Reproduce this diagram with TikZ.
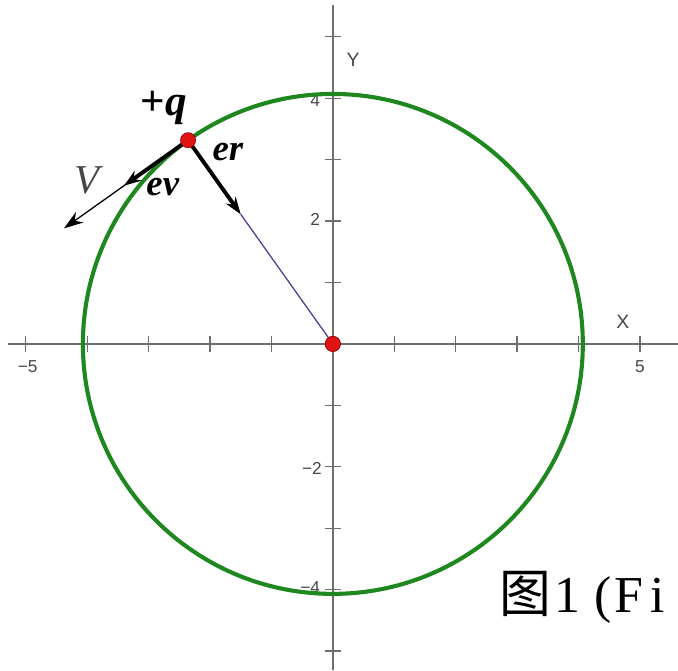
\documentclass[tikz,border=0pt]{standalone}
\usepackage{fontspec}
\setmainfont{Liberation Serif}
\newfontfamily\axfont{Liberation Sans}
\newfontfamily\cjkfont{Noto Sans CJK SC}
\usetikzlibrary{arrows.meta,calc}
\definecolor{axisgray}{RGB}{110,110,110}
\definecolor{labgray}{RGB}{70,70,70}
\definecolor{orbitgreen}{RGB}{30,135,30}
\definecolor{dotred}{RGB}{225,20,20}
\definecolor{dotedge}{RGB}{150,0,0}
\definecolor{radblue}{RGB}{70,70,150}
\begin{document}
\begin{tikzpicture}[x=1cm,y=1cm,
  axis/.style={draw=axisgray, line width=0.7pt},
  tickmark/.style={draw=axisgray, line width=0.6pt},
  ticklab/.style={font=\axfont\fontsize{8}{8}\selectfont, text=labgray, inner sep=0pt},
  axlab/.style={font=\axfont\fontsize{9}{9}\selectfont, text=labgray, inner sep=0pt},
  orbit/.style={draw=orbitgreen, line width=1.9pt},
  dot/.style={circle, fill=dotred, draw=dotedge, line width=0.3pt, inner sep=0pt, minimum size=7pt},
  thickvec/.style={line width=1.8pt, -{Stealth[length=8pt,width=5.5pt]}},
  thinvec/.style={line width=0.6pt, -{Stealth[length=9pt,width=6pt]}},
  veclab/.style={font=\fontsize{17}{17}\selectfont\bfseries\itshape, inner sep=0pt},
]
\useasboundingbox (-5.42,-5.31) rectangle (5.62,5.60);
% axes
\coordinate (xl) at (-5.29,0);
\coordinate (xr) at (5.62,0);
\coordinate (yb) at (0,-5.31);
\coordinate (yt) at (0,5.52);
\draw[axis] (xl) -- (xr);
\draw[axis] (yb) -- (yt);
\foreach \k in {-5,-4,-3,-2,-1,1,2,3,4,5} {
  \draw[tickmark] (\k,-0.13) -- (\k,0.13);
  \draw[tickmark] (-0.13,\k) -- (0.13,\k);
}
\node[ticklab] (tm5) at (-4.97,-0.37) {−5};
\node[ticklab] (tp5) at (5.0,-0.37) {5};
\node[ticklab] (t4) at (-0.29,3.97) {4};
\node[ticklab] (t2) at (-0.29,2.02) {2};
\node[ticklab] (tm2) at (-0.34,-2.02) {−2};
\node[ticklab] (tm4) at (-0.37,-3.97) {−4};
\node[axlab] (Xlab) at (4.72,0.36) {X};
\node[axlab] (Ylab) at (0.33,4.63) {Y};
% orbit
\draw[orbit] (0,0) circle (4.07);
% points and vectors
\node[dot] (O) at (0,0) {};
\coordinate (Qc) at (125.4:4.07);
\coordinate (ertip) at ($(Qc)+(-54.6:1.48)$);
\coordinate (evtip) at ($(Qc)+(215.4:1.28)$);
\coordinate (Vtip) at ($(Qc)+(215.4:2.48)$);
\draw[radblue, line width=0.6pt] (ertip) -- (O.center);
\draw[thinvec] (Qc) -- (Vtip);
\draw[thickvec] (Qc) -- (ertip);
\draw[thickvec] (Qc) -- (evtip);
\node[dot] (Q) at (Qc) {};
\node[dot] (O2) at (0,0) {};
% labels
\node[veclab, font=\fontsize{20}{20}\selectfont\bfseries\itshape] (qlab) at (-2.75,3.84) {\textup{+}q};
\node[veclab] (erlab) at (-1.71,3.12) {er};
\node[veclab] (evlab) at (-2.77,2.56) {ev};
\node[font=\fontsize{19}{19}\selectfont\itshape, text=labgray, inner sep=0pt] (Vlab) at (-4.0,2.67) {V};
% caption
\node[anchor=base west, inner sep=0pt, font=\fontsize{24}{24}\selectfont] (cap) at (3.13,-4.38)
  {\makebox[0pt][c]{\cjkfont 图}\hspace{0.684cm}\makebox[0pt][c]{1}\hspace{0.586cm}\makebox[0pt][c]{(}\hspace{0.407cm}\makebox[0pt][c]{F}\hspace{0.472cm}\makebox[0pt][c]{i}};
\end{tikzpicture}
\end{document}
